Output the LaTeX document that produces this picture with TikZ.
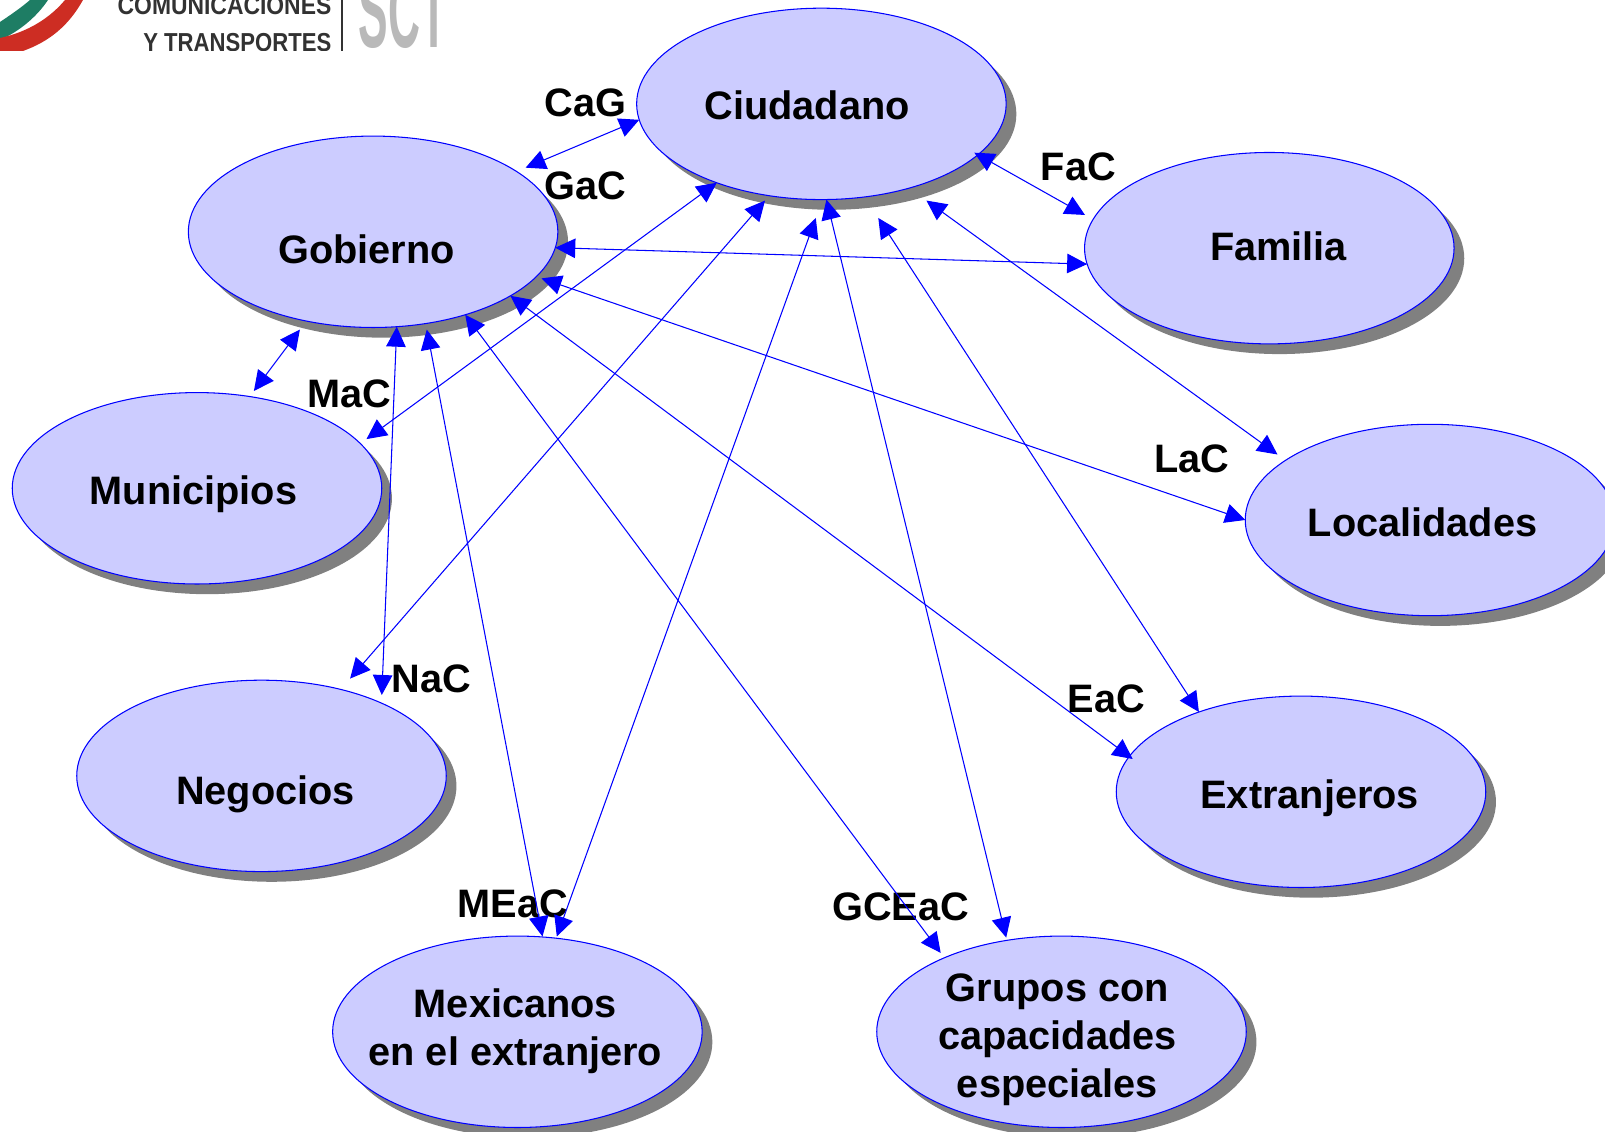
\documentclass[tikz,border=0pt]{standalone}
\usepackage{fontspec}
\setmainfont{Liberation Sans}
\usepackage{xcolor}
\usetikzlibrary{arrows.meta,shapes.geometric,shadows}
\definecolor{actorfill}{RGB}{204,204,255}
\definecolor{shadowgray}{RGB}{128,128,128}
\definecolor{logogreen}{RGB}{30,125,100}
\definecolor{logored}{RGB}{205,45,35}
\definecolor{logogray}{RGB}{185,185,185}
\definecolor{logotext}{RGB}{50,50,50}
\tikzset{
	actor/.style={ellipse,draw=blue,line width=0.3pt,fill=actorfill,minimum width=3.695cm,minimum height=1.914cm,inner sep=0pt,outer sep=0pt,drop shadow={shadow xshift=0.102cm,shadow yshift=-0.102cm,fill=shadowgray,opacity=1}},
	actortext/.style={font=\fontsize{11.3}{13.6}\selectfont\bfseries,align=center,inner sep=0pt},
	rolelabel/.style={font=\fontsize{11.3}{13.6}\selectfont\bfseries,inner sep=0pt},
	link/.style={draw=blue,line width=0.3pt,{Triangle[length=0.2cm,width=0.195cm]}-{Triangle[length=0.2cm,width=0.195cm]}},
	logoword/.style={font=\fontsize{7.4}{8}\selectfont\bfseries,text=logotext,inner sep=0pt,anchor=base east}
}
\begin{document}
\begin{tikzpicture}
\useasboundingbox (0,0) rectangle (16.05,11.32);
%
\begin{scope}
\clip (0,10.81) rectangle (16.05,11.32);
\fill[logogreen] (0,11.10) .. controls (0.12,11.18) and (0.22,11.25) .. (0.30,11.32) -- (0.48,11.32) .. controls (0.36,11.14) and (0.18,11.00) .. (0,10.92) -- cycle;
\fill[logored] (0,10.94) .. controls (0.28,11.00) and (0.50,11.14) .. (0.65,11.32) -- (0.83,11.32) .. controls (0.68,11.05) and (0.48,10.90) .. (0.23,10.81) -- (0,10.81) -- cycle;
\node[logoword] (logoa) at (3.32,11.17) {\scalebox{0.88}[1]{COMUNICACIONES}};
\node[logoword] (logob) at (3.32,10.80) {\scalebox{0.85}[1]{Y TRANSPORTES}};
\draw[logotext,line width=0.4pt] (3.42,10.81) -- (3.42,11.32);
\node[font=\fontsize{30}{32}\selectfont\bfseries,text=logogray,inner sep=0pt,anchor=base west] (logoc) at (3.58,10.84) {\scalebox{0.42}[1]{SCT}};
\end{scope}
%
\node[actor] (ciudadano) at (8.214,10.281) {};
\node[actor] (gobierno) at (3.731,9.002) {};
\node[actor] (familia) at (12.693,8.838) {};
\node[actor] (municipios) at (1.970,6.437) {};
\node[actor] (localidades) at (14.300,6.120) {};
\node[actor] (negocios) at (2.615,3.561) {};
\node[actor] (extranjeros) at (13.010,3.402) {};
\node[actor] (mexicanos) at (5.174,1.002) {};
\node[actor] (grupos) at (10.615,1.002) {};
%
\node[actortext] (ciudadanot) at (8.071,10.266) {Ciudadano};
\node[actortext] (gobiernot) at (3.665,8.823) {Gobierno};
\node[actortext] (familiat) at (12.785,8.853) {Familia};
\node[actortext] (municipiost) at (1.934,6.376) {Municipios};
\node[actortext] (localidadest) at (14.225,6.100) {Localidades};
\node[actortext] (negociost) at (2.656,3.377) {Negocios};
\node[actortext] (extranjerost) at (13.097,3.336) {Extranjeros};
\node[actortext] (mexicanost) at (5.154,1.007) {Mexicanos\\en el extranjero};
\node[actortext] (grupost) at (10.574,0.925) {Grupos con\\capacidades\\especiales};
%
\node[rolelabel] (cag) at (5.855,10.296) {CaG};
\node[rolelabel] (gac) at (5.855,9.457) {GaC};
\node[rolelabel] (fac) at (10.784,9.652) {FaC};
\node[rolelabel] (mac) at (3.491,7.379) {MaC};
\node[rolelabel] (lac) at (11.915,6.734) {LaC};
\node[rolelabel] (nac) at (4.314,4.533) {NaC};
\node[rolelabel] (eac) at (11.065,4.329) {EaC};
\node[rolelabel] (meac) at (5.128,2.282) {MEaC};
\node[rolelabel] (gceac) at (9.008,2.251) {GCEaC};
%
\coordinate (cfam) at (9.743,9.793);
\coordinate (cneg) at (7.650,9.314);
\coordinate (cmex) at (8.158,9.140);
\coordinate (cext) at (8.783,9.140);
\coordinate (cloc) at (9.264,9.314);
\coordinate (gciu) at (5.256,9.643);
\coordinate (gloc) at (5.415,8.536);
\coordinate (gmex) at (4.268,8.024);
\coordinate (gmun) at (2.999,8.024);
\coordinate (mung) at (2.539,7.410);
\coordinate (munc) at (3.665,6.929);
\coordinate (negc) at (3.501,4.534);
\coordinate (negg) at (3.818,4.370);
\coordinate (mexg) at (5.425,1.955);
\coordinate (mexc) at (5.568,1.955);
\coordinate (gruc) at (10.062,1.944);
\coordinate (grug) at (9.407,1.791);
\coordinate (locc) at (12.775,6.775);
\coordinate (famc) at (10.850,9.170);
\coordinate (extg) at (11.327,3.730);
%
\draw[link] (ciudadano.185) -- (gciu);
\draw[link] (cfam) -- (famc);
\draw[link] (gobierno.-5) -- (familia.185);
\draw[link] (ciudadano.217) -- (munc);
\draw[link] (cneg) -- (negc);
\draw[link] (cmex) -- (mexc);
\draw[link] (ciudadano.-87) -- (gruc);
\draw[link] (cext) -- (extranjeros.142);
\draw[link] (cloc) -- (locc);
\draw[link] (gloc) -- (localidades.180);
\draw[link] (gobierno.-25) -- (extg);
\draw[link] (gobierno.-42) -- (grug);
\draw[link] (gmex) -- (mexg);
\draw[link] (gobierno.-76) -- (negg);
\draw[link] (gmun) -- (mung);
\end{tikzpicture}
\end{document}
